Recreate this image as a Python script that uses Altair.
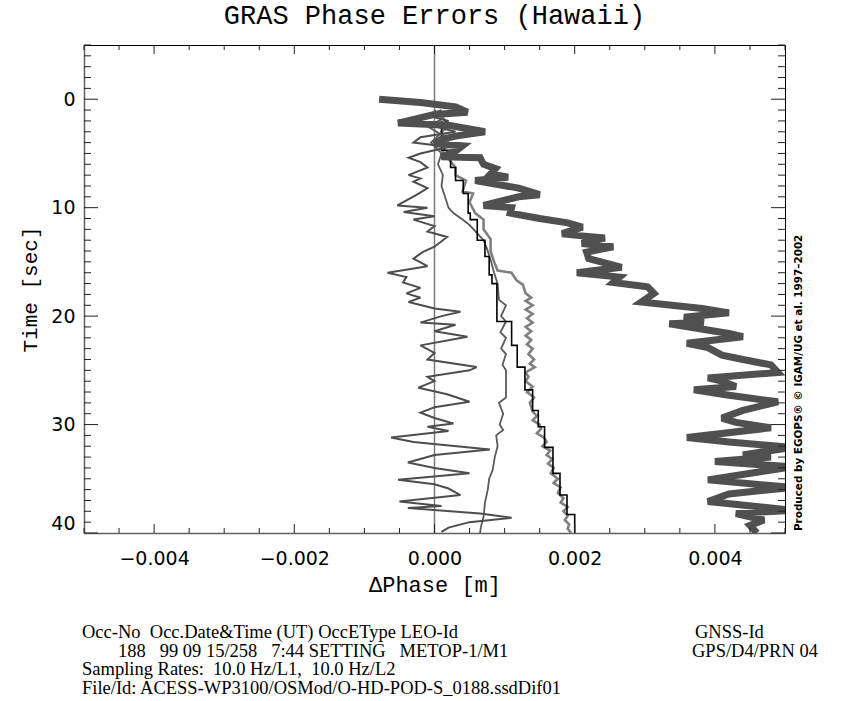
import altair as alt
import pandas as pd
import numpy as np

W, H = 701, 488

title_text = "GRAS Phase Errors (Hawaii)"
x_title = "ΔPhase [m]"
y_title = "Time [sec]"
x_label_values = [-0.004, -0.002, 0.0, 0.002, 0.004]
y_label_values = [0, 10, 20, 30, 40]
x_domain = [-0.005, 0.005]
y_domain = [-5, 40]
zero_line = [0.0]

# thick dark series (time [s], phase error [m])
thick_t = [0.0, 0.3, 0.7, 1.2, 1.4, 2.2, 2.4, 3.0, 3.4, 3.7, 4.1, 4.3, 4.8, 5.3, 5.4, 6.0, 6.4, 6.9,
           7.2, 7.5, 8.2, 8.8, 9.0, 9.8, 10.0, 10.5, 11.0, 11.4, 11.8, 12.4, 12.6, 12.8, 13.3, 13.6,
           14.1, 14.7, 15.5, 16.0, 16.4, 16.9, 17.3, 17.9, 18.7, 19.3, 19.7, 20.1, 20.6, 20.7, 21.6,
           21.9, 22.5, 22.9, 23.6, 24.0, 24.5, 25.2, 25.7, 26.0, 26.5, 26.8, 27.3, 27.9, 28.7, 29.4,
           29.8, 30.3, 31.2, 31.6, 32.1, 32.8, 33.0, 33.4, 33.9, 34.4, 35.1, 35.8, 36.4, 37.1, 37.9,
           38.2, 38.8, 39.3, 40.0]
thick_x = [-0.00079, -0.0002, 0.0003, 0.00047, 0.0000, -0.00052, 0.0002, 0.00072, 0.0003, 0.0001,
           0.0000, 0.0004, 0.0003, 0.0001, 0.00065, 0.0007, 0.00087, 0.0008, 0.00105, 0.00058, 0.0012,
           0.0015, 0.0012, 0.0007, 0.0011, 0.00108, 0.0015, 0.0019, 0.00211, 0.00182, 0.0021, 0.00243,
           0.0021, 0.00255, 0.00217, 0.0022, 0.00267, 0.00203, 0.00264, 0.00255, 0.00304, 0.00313,
           0.00295, 0.00382, 0.0042, 0.00356, 0.00384, 0.00335, 0.0042, 0.0044, 0.0036, 0.0039, 0.0041,
           0.0044, 0.0048, 0.0049, 0.0039, 0.0041, 0.0043, 0.0037, 0.0042, 0.0049, 0.0044, 0.0041,
           0.0043, 0.0048, 0.0036, 0.0042, 0.0051, 0.0044, 0.0048, 0.0040, 0.0051, 0.0046, 0.0039,
           0.0051, 0.0042, 0.0039, 0.0051, 0.0043, 0.0047, 0.0045, 0.0046]

# thin noisy series around zero
noise_t = [1.0, 1.5, 2.0, 2.5, 3.0, 3.5, 4.0, 4.4, 5.0, 5.4, 5.8, 6.3, 7.0, 7.3, 7.6, 8.2, 8.8, 9.8,
           10.0, 10.4, 10.8, 11.1, 11.7, 12.2, 12.7, 13.6, 14.1, 14.7, 15.4, 16.0, 16.4, 16.9, 17.4,
           17.9, 18.3, 18.7, 19.3, 19.6, 20.0, 20.6, 20.8, 21.4, 21.9, 22.7, 23.4, 24.0, 24.7, 25.0,
           25.6, 26.0, 26.6, 27.2, 27.9, 28.4, 28.9, 29.4, 29.9, 30.2, 30.6, 31.2, 31.6, 32.3, 32.8,
           33.5, 34.0, 34.5, 35.1, 35.5, 35.9, 36.5, 37.1, 37.5, 37.7, 38.2, 38.6, 39.0, 39.5, 39.9]
noise_x = [0.0001, -0.0001, 0.0002, 0.0000, 0.0003, -0.0002, -0.0003, 0.0002, -0.0002, -0.00037,
           -0.0002, -0.0001, -0.00037, -0.0002, -0.0003, -0.0001, -0.00025, -0.00053, -0.0001,
           -0.00044, 0.0000, -0.0003, 0.0000, -0.0001, 0.00018, 0.0000, -0.00017, -0.0003, -0.0001,
           -0.00067, -0.0004, -0.00045, -0.0002, -0.0004, -0.0002, -0.00037, 0.0000, 0.00037, 0.0001,
           -0.0002, 0.0003, 0.0000, 0.00047, -0.0002, 0.0000, -0.0001, 0.0006, 0.0005, -0.0001, 0.0000,
           -0.00023, 0.00018, 0.0005, 0.0000, -0.0002, 0.0000, 0.00027, -0.0001, 0.0002, -0.00062,
           -0.0003, 0.00079, 0.0000, -0.00038, 0.0000, 0.0005, -0.00052, 0.0000, 0.0002, 0.00037,
           -0.0005, 0.0001, -0.00038, 0.00065, 0.0011, 0.0005, 0.0002, 0.0001]

# grey series drifting to ~0.002 m
grey_t = [1.5, 2.5, 3.0, 4.0, 5.0, 5.5, 6.3, 7.0, 7.5, 8.5, 8.7, 9.5, 10.5, 11.1, 12.0, 12.9, 14.0,
          15.0, 15.8, 16.0, 16.7, 17.1, 17.9, 18.3, 18.6, 19.0, 19.4, 19.8, 20.2, 20.6, 21.0, 21.4,
          21.8, 22.2, 22.6, 23.0, 23.5, 24.0, 24.4, 24.7, 25.2, 25.6, 26.0, 26.5, 27.0, 27.5, 28.0,
          28.8, 29.2, 29.6, 30.0, 30.4, 30.8, 31.2, 31.6, 32.0, 32.4, 32.8, 33.2, 33.6, 34.0, 34.5,
          35.0, 35.4, 35.8, 36.3, 36.8, 37.2, 37.6, 38.0, 38.4, 38.8, 39.2, 39.6, 40.0]
grey_x = [0.0001, 0.0002, 0.0001, 0.0002, 0.0001, 0.0002, 0.0003, 0.0003, 0.00045, 0.0004, 0.00055,
          0.0005, 0.00058, 0.0007, 0.0007, 0.0008, 0.0008, 0.00085, 0.0009, 0.0011, 0.00117, 0.00126,
          0.0013, 0.00138, 0.0013, 0.0014, 0.0013, 0.0014, 0.00132, 0.0014, 0.0013, 0.00138, 0.0013,
          0.00138, 0.00132, 0.0014, 0.00134, 0.00142, 0.00136, 0.00143, 0.0013, 0.00134, 0.0013,
          0.0014, 0.00132, 0.00142, 0.00136, 0.0014, 0.00146, 0.0014, 0.0015, 0.00152, 0.00146,
          0.00156, 0.0016, 0.00154, 0.00165, 0.0016, 0.00168, 0.00162, 0.0017, 0.00166, 0.00176,
          0.0017, 0.0018, 0.00176, 0.00184, 0.0018, 0.0019, 0.00184, 0.0019, 0.00186, 0.00192,
          0.0019, 0.00195]

# black staircase series (start time of each step, value)
step_t = [2.0, 4.7, 6.3, 7.5, 8.7, 10.5, 11.1, 13.0, 14.5, 16.2, 17.0, 20.5, 22.7, 24.7, 26.8, 28.7,
          30.2, 32.1, 34.5, 36.5, 38.3, 40.0]
step_x = [0.00010, 0.00023, 0.00030, 0.00041, 0.00048, 0.00051, 0.00061, 0.00072, 0.00078, 0.00082,
          0.00089, 0.0011, 0.00118, 0.00129, 0.0014, 0.00148, 0.00157, 0.00169, 0.00179, 0.00189,
          0.0020, 0.0020]

# second grey series (rises to ~0.001 m, drifts back)
back_t = [1.0, 1.8, 2.5, 3.2, 4.0, 5.0, 6.0, 7.0, 8.0, 9.0, 10.0, 10.5, 11.1, 11.6, 12.3, 13.0, 13.8,
          14.8, 16.0, 17.0, 18.5, 19.0, 20.0, 20.5, 21.5, 22.0, 23.0, 23.5, 24.5, 25.0, 27.5, 28.0,
          29.0, 30.0, 30.5, 31.0, 32.0, 33.0, 34.2, 35.0, 36.0, 37.2, 38.5, 39.5, 40.0]
back_x = [0.0000, 0.00012, -0.0001, 0.00008, -0.00005, 0.0001, 0.00005, 0.00012, 0.0001, 0.00015,
          0.0002, 0.00027, 0.0004, 0.0005, 0.0006, 0.0007, 0.00075, 0.0008, 0.00085, 0.0009, 0.00092,
          0.00102, 0.00095, 0.00102, 0.00094, 0.00102, 0.00095, 0.00102, 0.00097, 0.00102, 0.00102,
          0.00092, 0.00098, 0.00093, 0.00098, 0.00088, 0.0009, 0.00086, 0.00083, 0.00078, 0.00076,
          0.00072, 0.0007, 0.00066, 0.00065]

NB = "\u00a0"
footer_1 = f"Occ-No{NB}{NB}Occ.Date&Time (UT) OccEType LEO-Id"
footer_1b = "GNSS-Id"
footer_2 = f"188{NB}{NB}{NB}99 09 15/258{NB}{NB}{NB}7:44 SETTING{NB}{NB}{NB}METOP-1/M1"
footer_2b = "GPS/D4/PRN 04"
footer_3 = f"Sampling Rates:{NB}{NB}10.0 Hz/L1,{NB}{NB}10.0 Hz/L2"
footer_4 = "File/Id: ACESS-WP3100/OSMod/O-HD-POD-S_0188.ssdDif01"
credit = "Produced by EGOPS\u00ae \u00a9 IGAM/UG et al. 1997\u20132002"


def frame(t, x):
    return pd.DataFrame({"t": t, "x": x, "i": list(range(len(t)))})


xs = alt.Scale(domain=x_domain, nice=False, zero=False)
ys = alt.Scale(domain=y_domain, nice=False, zero=False, reverse=True)

x_axis = alt.Axis(values=x_label_values, format=".3f", ticks=False, tickSize=0, grid=False,
                  domainColor="#606060", domainWidth=1.5, labelFont="DejaVu Sans", labelFontSize=19,
                  labelColor="black", labelPadding=16, title=x_title, titleFont="Liberation Mono",
                  titleFontSize=22, titleFontWeight="normal", titleColor="black", titlePadding=6)
y_axis = alt.Axis(values=y_label_values, ticks=False, tickSize=0, grid=False,
                  domainColor="#606060", domainWidth=1.5, labelFont="DejaVu Sans", labelFontSize=19,
                  labelColor="black", labelPadding=9, labelFlush=True, title=y_title,
                  titleFont="Liberation Mono", titleFontSize=21, titleFontWeight="normal",
                  titleColor="black", titlePadding=10)


def X(f):
    return alt.X(f"{f}:Q", scale=xs, axis=x_axis)


def Y(f):
    return alt.Y(f"{f}:Q", scale=ys, axis=y_axis)


layers = []

layers.append(alt.Chart(pd.DataFrame({"z": zero_line})).mark_rule(color="#7a7a7a", strokeWidth=1.5)
              .encode(x=X("z")))

def series(t, x, color, width, interp="linear"):
    return (alt.Chart(frame(t, x))
            .mark_line(color=color, strokeWidth=width, clip=True, interpolate=interp,
                       strokeJoin="miter", strokeMiterLimit=3)
            .encode(x=X("x"), y=Y("t"), order=alt.Order("i:Q")))

layers.append(series(back_t, back_x, "#5a5a5a", 1.8))
layers.append(series(grey_t, grey_x, "#808080", 2.6))
layers.append(series(step_t, step_x, "#000000", 1.6, "step-before"))
layers.append(series(noise_t, noise_x, "#4d4d4d", 2.0))
layers.append(series(thick_t, thick_x, "#505050", 7.0))

# inward tick marks (IDL style)
y_major = np.arange(0, 41, 10)
y_minor = np.array([v for v in range(-5, 41) if v % 10 != 0])
x_major = np.array(x_label_values)
x_minor = np.array([v for v in np.round(np.arange(-0.005, 0.00501, 0.0005), 5)
                    if not np.isclose(v % 0.002, 0) and not np.isclose(v % 0.002, 0.002)])
tick_color = "#222222"

def ytick(vals, x0, x1):
    return (alt.Chart(pd.DataFrame({"tk": vals})).mark_rule(color=tick_color, strokeWidth=1)
            .encode(y=Y("tk"), x=alt.value(x0), x2=alt.value(x1)))

def xtick(vals, y0, y1):
    return (alt.Chart(pd.DataFrame({"tk": vals})).mark_rule(color=tick_color, strokeWidth=1)
            .encode(x=X("tk"), y=alt.value(y0), y2=alt.value(y1)))

layers += [ytick(y_major, 0, 14), ytick(y_minor, 0, 7),
           ytick(y_major, W - 14, W), ytick(y_minor, W - 7, W),
           xtick(x_major, H - 9, H), xtick(x_minor, H - 5, H),
           xtick(x_major, 0, 9), xtick(x_minor, 0, 5)]

one = pd.DataFrame({"a": [0]})

def label(text, x, y, size=18.5, font="Liberation Serif", **kw):
    return (alt.Chart(one).mark_text(text=text, font=font, fontSize=size, color="black",
                                     align="left", baseline="alphabetic", **kw)
            .encode(x=alt.value(x), y=alt.value(y)))

layers += [
    label(footer_1, -2, 593),
    label(footer_1b, 611, 593),
    label(footer_2, 34, 611.5),
    label(footer_2b, 608, 611.5),
    label(footer_3, -2, 630),
    label(footer_4, -2, 648.5),
    label(credit, W + 17, 486, size=10.4, font="DejaVu Sans", fontWeight="bold", angle=270),
]

chart = (alt.layer(*layers)
         .properties(width=W, height=H,
                     title=alt.TitleParams(title_text, font="Liberation Mono", fontSize=27,
                                           fontWeight="normal", color="black", anchor="middle",
                                           offset=14),
                     autosize=alt.AutoSizeParams(type="none"),
                     padding={"left": 84, "top": 45, "right": 73, "bottom": 168})
         .configure_view(stroke="black", strokeWidth=1))

chart.save("out.html", embed_options={"renderer": "svg", "actions": False})
